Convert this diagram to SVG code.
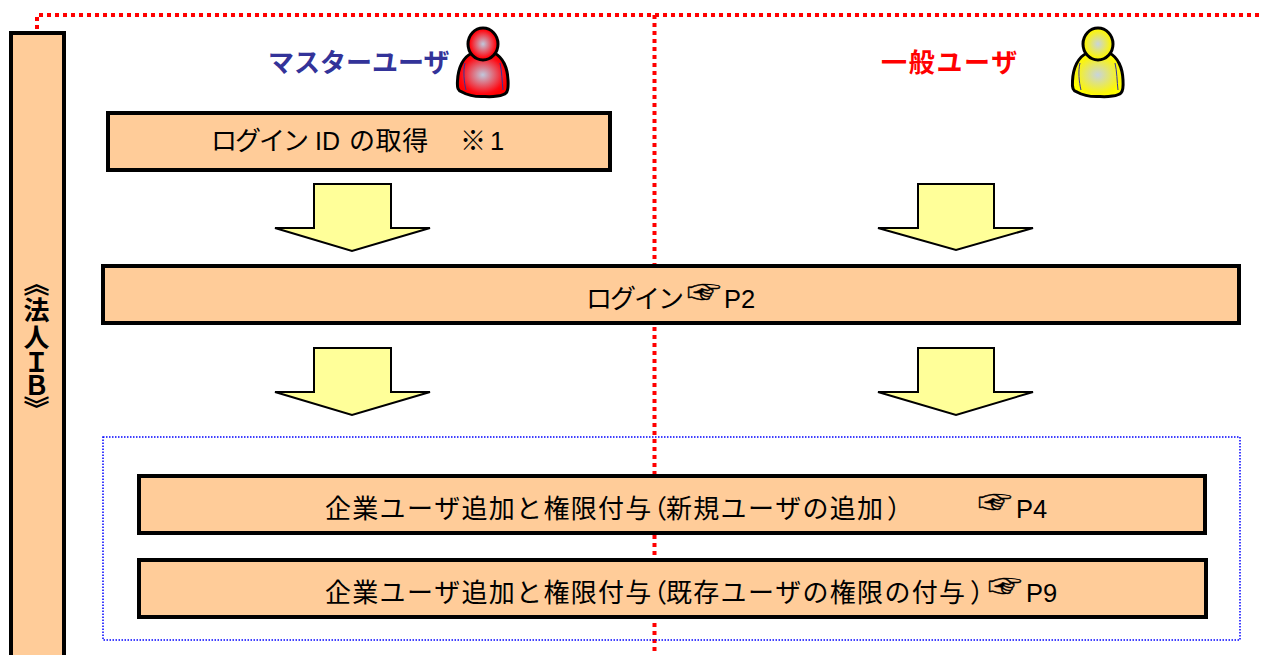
<svg xmlns="http://www.w3.org/2000/svg" width="1262" height="655" viewBox="0 0 1262 655">
<style>
.box{fill:#FFCC99;stroke:#000;stroke-width:4}
.arr{fill:#FFFF99;stroke:#000;stroke-width:2;stroke-linejoin:miter}
.t{font-family:"Noto Sans CJK JP","Liberation Sans",sans-serif;font-size:26px;fill:#000}
.k{font-feature-settings:"halt"}
.p{letter-spacing:-2px}
.l{font-family:"Liberation Sans",sans-serif;font-size:25.500px;fill:#000}
.h{font-family:"Noto Sans CJK JP",sans-serif;font-size:34px;fill:#000;stroke:#000;stroke-width:.5}
.ttl{font-family:"Noto Sans CJK JP",sans-serif;font-size:26px;font-weight:700}
.sep{fill:none;stroke:#f00;stroke-width:4;stroke-dasharray:4 4}
.body{stroke:#000;stroke-width:3}
.seam{fill:none;stroke:#333399;stroke-width:1}
</style>
<defs>
<radialGradient id="gr"><stop offset="0" stop-color="#C0C8DC"/><stop offset=".85" stop-color="#FF0A14"/><stop offset="1" stop-color="#FF0000"/></radialGradient>
<radialGradient id="gy"><stop offset="0" stop-color="#C8D4DC"/><stop offset=".85" stop-color="#FAF410"/><stop offset="1" stop-color="#FFFF00"/></radialGradient>
<g id="person-shape">
<path class="body" d="M-11 9C-20 13-25 24-25.500 37C-26 44-25 47-21 48C-14 52-6 53 2 52.500C10 53 20 52 23 49C25 47 25.500 44 25 36C24.500 24 20 13 11 9Z"/>
<path class="seam" d="M-18 19C-20 27-19 38-17 46M17 19C19 27 19 38 20 46M-12 9C-6 13 6 13 12 9"/>
<ellipse class="body" cx="0" cy="0" rx="15" ry="16"/>
</g>
</defs>
<g id="connectors">
<path class="sep" stroke-dashoffset="6" d="M37 31V15H1262"/>
<path class="sep" d="M654.500 15V655"/>
</g>
<g id="ib-bar"><rect class="box" x="11" y="33" width="53" height="640"/>
<text class="t" style="font-weight:700;writing-mode:vertical-rl;text-orientation:upright" x="36.500" y="270 297 324 349 372 396">《法人ＩＢ》</text></g>
<g id="master-user">
<text class="ttl" fill="#333399" x="268" y="72">マスターユーザ</text>
<use href="#person-shape" x="483" y="44" fill="url(#gr)"/>
</g>
<g id="general-user">
<text class="ttl" fill="#f00" x="881" y="72" style="letter-spacing:1.700px">一般ユーザ</text>
<use href="#person-shape" x="1098" y="44" fill="url(#gy)"/>
</g>
<g id="get-login-id"><rect class="box" x="108" y="113" width="502" height="57"/>
<text class="t p" x="211" y="150">ログイン</text><text class="l" x="315" y="149.500" style="font-size:25px">ID</text><text class="t" x="349" y="150" style="letter-spacing:.6px">の取得</text><text class="t" x="460" y="150">※</text><text class="l" x="490" y="149.500">1</text></g>
<g id="arrow-1"><polygon class="arr" points="314,184 391,184 391,228 430,228 352,251 275,228 314,228"/></g>
<g id="arrow-2"><polygon class="arr" points="918,184 994,184 994,228 1033,228 956,250 878,228 918,228"/></g>
<g id="login"><rect class="box" x="103" y="266" width="1136" height="57"/>
<text class="t p" x="586" y="308">ログイン</text><text class="h" x="687" y="304">☞</text><text class="l" x="724" y="308">P2</text></g>
<g id="arrow-3"><polygon class="arr" points="314,348 391,348 391,392 430,392 352,415 275,392 314,392"/></g>
<g id="arrow-4"><polygon class="arr" points="918,348 994,348 994,392 1033,392 956,415 878,392 918,392"/></g>
<g id="permission-group"><rect x="103" y="437" width="1137" height="203" fill="none" stroke="#00f" stroke-width="1.500" stroke-dasharray="1.500 1.500"/></g>
<g id="add-new-user"><rect class="box" x="139" y="476" width="1066" height="57"/>
<text class="t k" x="325 352.300 379.600 406.900 434.200 461.500 488.800 516.100 543.400 570.700 598 625.300 654 666 693.300 720.600 747.900 775.200 802.500 829.800 857.100 887" y="518">企業ユーザ追加と権限付与（新規ユーザの追加）</text><text class="h" x="978" y="514">☞</text><text class="l" x="1016" y="518">P4</text></g>
<g id="add-existing-user"><rect class="box" x="139" y="560" width="1067" height="57"/>
<text class="t k" x="325 352.300 379.600 406.900 434.200 461.500 488.800 516.100 543.400 570.700 598 625.300 654 666 693.300 720.600 747.900 775.200 802.500 829.800 857.100 884.400 911.700 939 970" y="602">企業ユーザ追加と権限付与（既存ユーザの権限の付与）</text><text class="h" x="988" y="598">☞</text><text class="l" x="1026" y="602">P9</text></g>
</svg>
